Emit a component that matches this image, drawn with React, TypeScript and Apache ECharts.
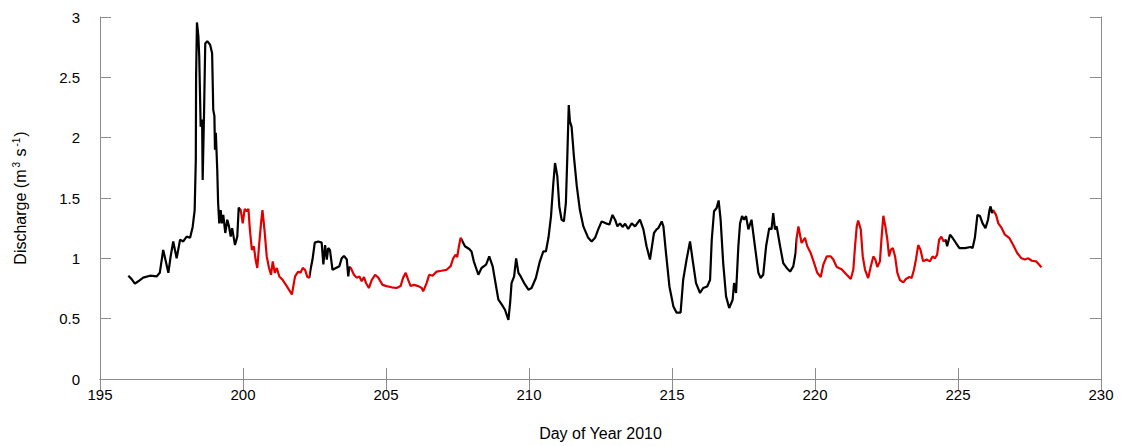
import React, { useEffect, useRef } from "react";
import * as echarts from "echarts";

const days: number[] = [
  195.99, 196.1, 196.22, 196.34, 196.51, 196.75, 196.98, 197.09, 197.21, 197.3,
  197.39, 197.47, 197.56, 197.68, 197.8, 197.91, 198.03, 198.15, 198.24, 198.31,
  198.35, 198.36, 198.39, 198.44, 198.47, 198.52, 198.57, 198.59, 198.64, 198.68,
  198.75, 198.85, 198.92, 198.96, 199.0, 199.02, 199.05, 199.1, 199.13, 199.17,
  199.22, 199.26, 199.31, 199.38, 199.45, 199.51, 199.57, 199.62, 199.72, 199.8,
  199.85, 199.92, 199.99, 200.06, 200.13, 200.19, 200.24, 200.31, 200.38, 200.44,
  200.5, 200.57, 200.63, 200.68, 200.75, 200.83, 200.91, 200.98, 201.04, 201.11,
  201.18, 201.27, 201.39, 201.53, 201.71, 201.82, 201.93, 202.01, 202.09, 202.17,
  202.25, 202.32, 202.36, 202.43, 202.51, 202.63, 202.75, 202.81, 202.87, 202.93,
  202.98, 203.04, 203.13, 203.25, 203.37, 203.45, 203.53, 203.63, 203.68, 203.72,
  203.77, 203.88, 203.97, 204.07, 204.15, 204.23, 204.3, 204.4, 204.5, 204.62,
  204.73, 204.88, 205.02, 205.2, 205.37, 205.51, 205.6, 205.69, 205.78, 205.86,
  205.98, 206.13, 206.25, 206.3, 206.42, 206.51, 206.63, 206.77, 206.94, 207.12,
  207.26, 207.35, 207.43, 207.49, 207.55, 207.61, 207.76, 207.91, 207.99, 208.07,
  208.23, 208.34, 208.5, 208.61, 208.73, 208.85, 208.93, 209.05, 209.16, 209.28,
  209.34, 209.39, 209.48, 209.55, 209.63, 209.71, 209.83, 209.98, 210.09, 210.24,
  210.38, 210.5, 210.59, 210.68, 210.77, 210.85, 210.91, 210.99, 211.06, 211.14,
  211.22, 211.29, 211.34, 211.39, 211.43, 211.49, 211.57, 211.67, 211.78, 211.9,
  212.07, 212.19, 212.31, 212.42, 212.54, 212.69, 212.81, 212.92, 213.01, 213.09,
  213.18, 213.27, 213.36, 213.47, 213.59, 213.71, 213.88, 214.0, 214.11, 214.23,
  214.3, 214.37, 214.46, 214.52, 214.64, 214.7, 214.79, 214.91, 215.05, 215.16,
  215.3, 215.39, 215.51, 215.63, 215.72, 215.84, 215.98, 216.09, 216.23, 216.33,
  216.39, 216.47, 216.56, 216.63, 216.7, 216.79, 216.89, 217.0, 217.12, 217.17,
  217.24, 217.32, 217.38, 217.45, 217.52, 217.59, 217.67, 217.78, 217.9, 218.02,
  218.1, 218.19, 218.29, 218.4, 218.48, 218.54, 218.6, 218.66, 218.78, 218.89,
  219.01, 219.13, 219.24, 219.32, 219.36, 219.42, 219.53, 219.65, 219.73, 219.85,
  219.97, 220.08, 220.2, 220.29, 220.41, 220.55, 220.64, 220.76, 220.93, 221.11,
  221.25, 221.34, 221.4, 221.46, 221.51, 221.6, 221.67, 221.75, 221.86, 221.95,
  222.04, 222.11, 222.18, 222.27, 222.33, 222.39, 222.46, 222.53, 222.59, 222.65,
  222.72, 222.8, 222.88, 222.97, 223.09, 223.18, 223.3, 223.38, 223.46, 223.53,
  223.61, 223.69, 223.78, 223.9, 224.02, 224.11, 224.19, 224.27, 224.34, 224.42,
  224.5, 224.57, 224.62, 224.72, 224.81, 224.93, 225.05, 225.24, 225.44, 225.51,
  225.59, 225.68, 225.77, 225.86, 225.96, 226.05, 226.1, 226.14, 226.19, 226.23,
  226.33, 226.41, 226.53, 226.64, 226.79, 226.93, 227.07, 227.22, 227.34, 227.46,
  227.58, 227.73, 227.84, 227.92,
];

const discharge: number[] = [
  0.856, 0.83, 0.79, 0.81, 0.84, 0.856, 0.85, 0.88, 1.07, 0.975,
  0.88, 1.016, 1.14, 1.0, 1.155, 1.14, 1.18, 1.17, 1.26, 1.4,
  1.82, 2.51, 2.955, 2.84, 2.67, 2.09, 2.15, 1.65, 2.23, 2.78,
  2.8, 2.77, 2.7, 2.23, 2.18, 1.9, 2.04, 1.73, 1.46, 1.29,
  1.4, 1.29, 1.36, 1.21, 1.32, 1.265, 1.18, 1.25, 1.11, 1.18,
  1.42, 1.4, 1.29, 1.41, 1.39, 1.41, 1.24, 1.07, 1.1, 0.99,
  0.92, 1.13, 1.29, 1.4, 1.24, 1.016, 0.92, 0.864, 0.975, 0.88,
  0.92, 0.85, 0.82, 0.77, 0.7, 0.85, 0.89, 0.88, 0.92, 0.905,
  0.845, 0.84, 0.905, 0.99, 1.13, 1.14, 1.13, 0.95, 1.11, 0.99,
  1.085, 1.07, 0.905, 0.92, 0.935, 1.0, 1.02, 0.99, 0.85, 0.93,
  0.92, 0.864, 0.84, 0.85, 0.81, 0.845, 0.795, 0.754, 0.82, 0.864,
  0.84, 0.78, 0.77, 0.76, 0.754, 0.77, 0.84, 0.88, 0.82, 0.77,
  0.78, 0.77, 0.754, 0.726, 0.795, 0.864, 0.856, 0.89, 0.897, 0.905,
  0.935, 1.0, 1.03, 1.01, 1.1, 1.17, 1.1, 1.077, 1.057, 0.975,
  0.864, 0.92, 0.947, 1.016, 0.933, 0.767, 0.657, 0.616, 0.574, 0.49,
  0.63, 0.795, 0.85, 1.0, 0.88, 0.85, 0.795, 0.74, 0.754, 0.837,
  0.975, 1.057, 1.057, 1.17, 1.35, 1.62, 1.79, 1.68, 1.43, 1.32,
  1.306, 1.46, 1.845, 2.27, 2.135, 2.09, 1.845, 1.6, 1.4, 1.265,
  1.17, 1.14, 1.17, 1.24, 1.306, 1.29, 1.28, 1.36, 1.32, 1.265,
  1.29, 1.26, 1.287, 1.243, 1.29, 1.265, 1.32, 1.24, 1.1, 0.99,
  1.1, 1.21, 1.24, 1.25, 1.306, 1.265, 1.044, 0.767, 0.6, 0.55,
  0.55, 0.82, 0.99, 1.14, 0.99, 0.795, 0.713, 0.754, 0.767, 0.82,
  1.154, 1.39, 1.417, 1.48, 1.32, 0.96, 0.685, 0.588, 0.657, 0.795,
  0.713, 1.1, 1.29, 1.35, 1.32, 1.35, 1.24, 1.32, 1.1, 0.88,
  0.837, 0.864, 1.1, 1.25, 1.24, 1.375, 1.24, 1.265, 1.1, 0.96,
  0.92, 0.89, 0.933, 1.044, 1.17, 1.265, 1.127, 1.17, 1.1, 1.044,
  0.96, 0.88, 0.845, 0.947, 1.016, 1.016, 0.99, 0.928, 0.91, 0.864,
  0.829, 0.905, 1.1, 1.265, 1.314, 1.24, 1.016, 0.905, 0.837, 0.933,
  1.016, 0.99, 0.928, 0.975, 1.18, 1.353, 1.265, 1.154, 1.016, 1.07,
  1.085, 1.016, 0.88, 0.82, 0.8, 0.829, 0.845, 0.837, 0.905, 0.99,
  1.11, 1.07, 0.975, 0.99, 0.975, 1.016, 1.0, 1.03, 1.154, 1.18,
  1.14, 1.154, 1.1, 1.196, 1.17, 1.127, 1.085, 1.085, 1.094, 1.085,
  1.17, 1.36, 1.35, 1.29, 1.25, 1.32, 1.4, 1.43, 1.375, 1.4,
  1.36, 1.29, 1.25, 1.196, 1.17, 1.11, 1.044, 1.0, 0.99, 1.0,
  0.98, 0.975, 0.947, 0.925,
];

// Day ranges drawn in red
const redRanges: [number, number][] = [
  [199.88, 202.35],
  [203.75, 207.65],
  [219.34, 224.55],
  [226.21, 228.5],
];

const xTicks = { min: 195, max: 230, interval: 5 };
const yTicks = { min: 0, max: 3, interval: 0.5 };

const FONT = "'Liberation Sans', Arial, Helvetica, sans-serif";
const AXIS_GREY = "#8c8c8c";
const RED = "#e00000";

export default function App() {
  const ref = useRef<HTMLDivElement>(null);

  useEffect(() => {
    if (!ref.current) return;
    const chart = echarts.init(ref.current, null, { renderer: "svg" });
    const data = days.map((d, i) => [d, discharge[i]]);
    const lineStyle = { color: AXIS_GREY, width: 1 };
    const tick = { show: true, inside: true, length: 11, lineStyle };
    chart.setOption({
      animation: false,
      backgroundColor: "#ffffff",
      grid: { left: 100, right: 24, top: 17, bottom: 67, containLabel: false },
      xAxis: [
        {
          type: "value",
          ...xTicks,
          position: "bottom",
          axisLine: { show: true, lineStyle },
          axisTick: tick,
          splitLine: { show: false },
          axisLabel: { color: "#000", fontSize: 15, fontFamily: FONT, margin: 8 },
          name: "Day of Year 2010",
          nameLocation: "middle",
          nameGap: 46,
          nameTextStyle: { color: "#000", fontSize: 16, fontFamily: FONT },
        },
        {
          type: "value",
          ...xTicks,
          position: "top",
          axisLine: { show: true, lineStyle },
          axisTick: tick,
          splitLine: { show: false },
          axisLabel: { show: false },
        },
      ],
      yAxis: [
        {
          type: "value",
          ...yTicks,
          position: "left",
          axisLine: { show: true, lineStyle },
          axisTick: tick,
          splitLine: { show: false },
          axisLabel: { color: "#000", fontSize: 15, fontFamily: FONT, margin: 20 },
          name: "Discharge (m{sup|3} s{sup|-1})",
          nameLocation: "middle",
          nameGap: 70,
          nameRotate: 90,
          nameTextStyle: {
            color: "#000",
            fontSize: 16,
            fontFamily: FONT,
            rich: {
              sup: {
                fontSize: 10,
                fontFamily: FONT,
                color: "#000",
                verticalAlign: "bottom",
                padding: [0, 1, 9, 2],
              },
            },
          },
        },
        {
          type: "value",
          ...yTicks,
          position: "right",
          axisLine: { show: true, lineStyle },
          axisTick: tick,
          splitLine: { show: false },
          axisLabel: { show: false },
        },
      ],
      visualMap: {
        type: "piecewise",
        show: false,
        dimension: 0,
        seriesIndex: 0,
        pieces: redRanges.map(([a, b]) => ({ gte: a, lte: b, color: RED })),
        outOfRange: { color: "#000000" },
      },
      series: [
        {
          type: "line",
          xAxisIndex: 0,
          yAxisIndex: 0,
          data,
          showSymbol: false,
          symbol: "none",
          lineStyle: { width: 2.2 },
        },
      ],
    });
    return () => chart.dispose();
  }, []);

  return (
    <div
      ref={ref}
      style={{ position: "fixed", left: 0, top: 0, width: 1125, height: 446, background: "#fff" }}
    />
  );
}
